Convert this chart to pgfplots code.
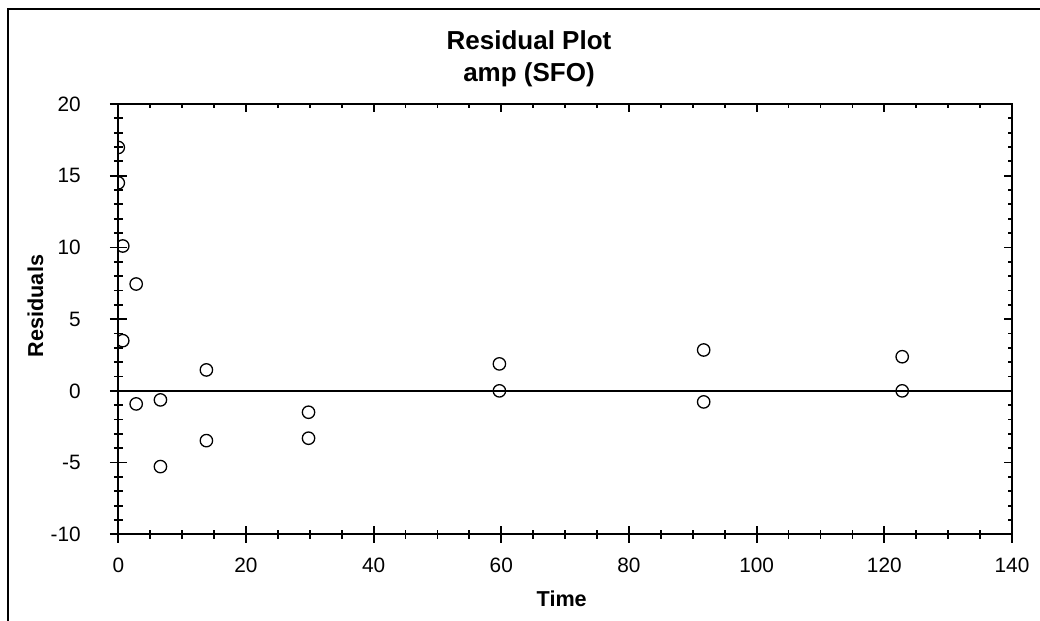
\documentclass[border=0pt]{standalone}
\usepackage{pgfplots}
\pgfplotsset{compat=1.18}
\usepackage{fontspec}
\setmainfont{Liberation Sans}
\pgfplotstableread{
x y
0 16.97
0 14.5
0.7 10.1
0.7 3.5
2.8 7.45
2.8 -0.91
6.6 -0.63
6.6 -5.28
13.8 1.46
13.8 -3.47
29.8 -1.49
29.8 -3.3
59.7 1.88
59.7 0.0
91.7 2.85
91.7 -0.77
122.8 2.38
122.8 0.0
}\resid
\begin{document}
\begin{tikzpicture}
\useasboundingbox (0,0) rectangle (520pt,310.5pt);
\draw[line width=1pt] (4pt,0) -- (4pt,305.75pt) -- (520pt,305.75pt);
\begin{axis}[
  at={(59.15pt,43.35pt)}, anchor=south west,
  scale only axis, width=446.85pt, height=215.15pt,
  xmin=0, xmax=140, ymin=-10, ymax=20,
  xtick={0,20,...,140}, ytick={-10,-5,...,20},
  minor x tick num=3, minor y tick num=4,
  xtick pos=left, ytick pos=left,
  tick align=center,
  major tick length=8.5pt, minor tick length=4.5pt,
  axis line style={line width=1pt},
  every tick/.style={line width=0.9pt, black},
  clip marker paths=true,
  /pgf/number format/assume math mode=true,
  ticklabel style={font=\fontsize{10.4}{12}\selectfont},
  xticklabel style={yshift=-4pt},
  yticklabel style={xshift=-11pt},
]
\addplot[black, line width=0.65pt, forget plot] coordinates {(0,0) (140,0)};
\addplot[only marks, mark=o, mark size=3.1pt, mark options={line width=0.65pt, black}] table[x=x,y=y] {\resid};
\end{axis}
\begin{axis}[
  at={(59.15pt,43.35pt)}, anchor=south west,
  scale only axis, width=446.85pt, height=215.15pt,
  xmin=0, xmax=140, ymin=-10, ymax=20,
  xtick={0,20,...,140}, ytick={-10,-5,...,20},
  minor x tick num=3, minor y tick num=4,
  xtick pos=right, ytick pos=right,
  tick align=inside,
  major tick length=4pt, minor tick length=2pt,
  axis line style={line width=1pt},
  every tick/.style={line width=0.9pt, black},
  xticklabels={}, yticklabels={},
]
\end{axis}
\node[font=\bfseries\fontsize{13}{15}\selectfont, anchor=base] at (264.5pt,285.5pt) {Residual Plot};
\node[font=\bfseries\fontsize{13}{15}\selectfont, anchor=base] at (264.5pt,269.5pt) {amp (SFO)};
\node[font=\bfseries\fontsize{10.8}{13}\selectfont, anchor=base] at (280.85pt,7.15pt) {Time};
\node[font=\bfseries\fontsize{10.8}{13}\selectfont, anchor=base, rotate=90] at (21.5pt,157.5pt) {Residuals};
\end{tikzpicture}
\end{document}
